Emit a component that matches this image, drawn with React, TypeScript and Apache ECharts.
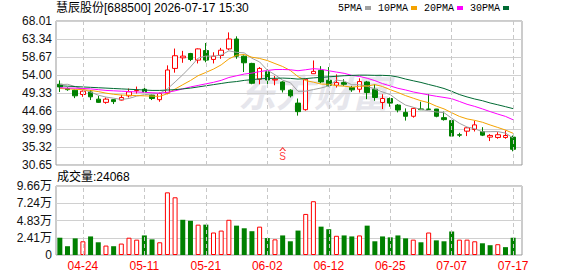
import React, { useEffect, useRef } from "react";
import * as echarts from "echarts";

const dates = [
  "04-21","04-22","04-23","04-24","04-27","04-28","04-29","04-30","05-06","05-07",
  "05-08","05-11","05-12","05-13","05-14","05-15","05-18","05-19","05-20","05-21",
  "05-22","05-25","05-26","05-27","05-28","05-29","06-01","06-02","06-03","06-04",
  "06-05","06-08","06-09","06-10","06-11","06-12","06-15","06-16","06-17","06-18",
  "06-22","06-23","06-24","06-25","06-26","06-29","06-30","07-01","07-02","07-03",
  "07-06","07-07","07-08","07-09","07-10","07-13","07-14","07-15","07-16","07-17",
];
const opens = [
  51.6,50.5,50.06,48.94,49.6,47.74,46.9,47.6,47.49,48.6,
  49.9,50.3,48.77,47.6,49.3,55.71,58.45,59.57,57.86,60.34,
  58.03,59.06,60.77,63.34,58.88,57.0,52.9,54.86,52.7,52.2,
  50.06,46.71,45.0,54.34,55.2,52.63,51.34,52.03,50.74,50.3,
  52.2,50.3,46.88,47.9,46.2,44.3,43.29,45.2,45.17,45.17,
  42.94,42.17,38.5,39.43,39.86,39.34,37.89,37.8,37.8,37.89,
];
const closes = [
  50.9,50.2,48.6,49.8,48.34,46.9,47.74,47.1,48.17,49.63,
  50.0,49.6,47.9,49.2,55.3,59.0,58.9,58.03,60.77,57.86,
  58.88,60.43,63.34,58.88,57.17,51.86,55.71,52.7,52.9,50.15,
  48.6,44.49,52.9,54.94,52.2,51.34,52.03,51.6,50.15,52.3,
  49.46,48.17,47.9,46.71,44.9,43.29,45.34,45.0,45.08,43.29,
  42.43,38.15,38.4,40.3,41.06,38.4,38.32,38.5,38.3,34.72,
];
const highs = [
  52.6,50.8,50.2,50.0,50.1,48.6,48.17,47.74,48.86,50.5,
  51.0,51.0,48.94,49.46,56.5,60.86,60.26,59.74,60.9,62.31,
  59.9,61.03,65.05,64.03,59.06,57.17,56.06,55.46,53.74,52.4,
  50.3,47.9,53.0,57.77,56.3,56.06,54.17,52.9,51.17,53.14,
  52.46,51.6,49.0,48.17,46.46,45.34,45.5,47.06,49.03,45.2,
  44.49,42.2,39.0,40.4,42.17,40.46,38.66,39.17,39.6,38.3,
];
const lows = [
  49.6,49.9,48.0,48.34,47.5,46.8,46.54,46.46,47.4,48.17,
  49.2,49.4,47.5,47.06,49.0,54.6,57.17,57.6,57.0,57.3,
  57.0,58.2,60.43,58.2,54.77,51.6,51.6,51.0,51.34,49.46,
  48.17,43.46,44.74,54.3,51.86,51.0,50.74,51.17,49.63,49.46,
  47.74,47.3,45.17,45.77,44.3,42.17,42.94,44.9,44.9,43.03,
  42.17,37.97,37.9,38.15,39.34,38.15,36.86,37.46,37.46,34.2,
];
const volumes = [
  24200,12300,23300,19200,26000,17800,13200,12300,16000,24200,
  21500,27400,21900,17800,87700,80800,49300,47900,42500,42500,
  31500,34200,49300,41100,37400,33300,39700,23700,21900,27400,
  19200,34200,57500,75300,39700,36100,26900,27400,26000,27400,
  41100,19200,26000,24700,27400,23300,21500,17800,31500,20500,
  19200,32900,21500,21500,19200,16400,13700,15100,11000,24068,
];
const ma5 = [
  51.5,51.6,51.0,50.3,49.57,48.77,48.28,47.98,47.65,47.91,
  48.53,48.9,49.06,49.27,50.4,52.2,54.06,56.09,58.4,58.91,
  58.89,59.19,60.26,59.88,59.74,58.34,57.39,55.26,54.07,52.66,
  52.01,49.77,49.81,50.22,50.63,51.17,52.68,52.42,51.46,51.48,
  51.11,50.34,49.6,48.91,47.43,46.19,45.63,45.05,44.72,44.4,
  44.23,42.79,41.47,40.51,40.07,39.26,39.3,39.32,38.92,37.65,
];
const ma10 = [
  50.5,50.4,50.3,50.2,50.0,49.7,49.3,49.0,48.8,48.74,
  48.65,48.59,48.52,48.46,49.15,50.36,51.48,52.57,53.83,54.66,
  55.54,56.63,58.17,59.14,59.32,58.61,58.29,57.76,56.97,56.2,
  55.17,53.58,52.54,52.14,51.65,51.59,51.23,51.12,50.84,51.06,
  51.14,51.51,51.01,50.19,49.46,48.65,47.98,47.32,46.81,45.91,
  45.21,44.21,43.26,42.61,42.23,41.74,41.04,40.39,39.72,38.86,
];
const ma20 = [
  50.7,50.6,50.6,50.5,50.4,50.2,50.0,49.9,49.8,49.7,
  49.6,49.5,49.4,49.3,49.5,49.9,50.4,50.9,51.3,51.7,
  52.1,52.61,53.35,53.8,54.24,54.49,54.89,55.17,55.41,55.43,
  55.36,55.11,55.36,55.64,55.49,55.1,54.76,54.44,53.91,53.63,
  53.16,52.54,51.77,51.16,50.55,50.12,49.6,49.22,48.83,48.48,
  48.18,47.85,47.14,46.4,45.85,45.2,44.51,43.86,43.26,42.37,
];
const ma30 = [
  51.2,51.1,51.0,50.9,50.8,50.7,50.6,50.5,50.4,50.3,
  50.2,50.1,50.0,50.0,50.1,50.2,50.4,50.6,50.9,51.2,
  51.5,51.8,52.1,52.3,52.6,52.8,53.0,53.1,53.15,53.2,
  53.12,52.94,53.07,53.25,53.38,53.52,53.67,53.81,53.89,53.97,
  53.96,53.91,53.91,53.82,53.48,52.95,52.5,52.07,51.54,51.05,
  50.5,49.76,48.93,48.31,47.77,47.33,46.74,46.27,45.78,45.27,
];
const priceTicks = ["30.65","35.32","39.99","44.66","49.33","54.00","58.67","63.34","68.01"];
const volTicks = ["0","2.41万","4.83万","7.24万","9.66万"];
const priceMin = 30.65;
const priceMax = 68.01;
const volMax = 96600;
const stockTitle = "慧辰股份[688500] 2026-07-17 15:30";
const signalIndex = 29;
const signalPrice = 33.0;

const RED = "#ff0000";
const GREEN = "#008000";
const maNames = ["5PMA", "10PMA", "20PMA", "30PMA"];
const maColors = ["#a0a0a0", "#f5a300", "#ff00ff", "#006a33"];

export default function App() {
  const ref = useRef<HTMLDivElement>(null);
  useEffect(() => {
    if (!ref.current) return;
    const chart = echarts.init(ref.current, undefined, { renderer: "svg" });
    const gridDates = dates.filter((_, i) => (i - 3) % 8 === 0);
    const vLines = {
      silent: true,
      symbol: ["none", "none"],
      label: { show: false },
      lineStyle: { color: "#c8c8c8", type: [4, 3], width: 1 },
      data: gridDates.map((d) => ({ xAxis: d })),
    };
    const sansFont = '"Liberation Sans", Arial, "Noto Sans CJK SC", sans-serif';
    const left = 56;
    const dataW = 461;
    const frameW = 466;
    const pTop = 21, pH = 144, vTop = 186, vH = 69;
    const mas = [ma5, ma10, ma20, ma30];
    chart.setOption({
      animation: false,
      backgroundColor: "#ffffff",
      title: [
        {
          text: stockTitle, left: 56, top: 2, padding: 0,
          textStyle: { fontSize: 12, fontWeight: "normal", color: "#000", fontFamily: sansFont },
        },
        {
          text: "成交量:" + volumes[volumes.length - 1], left: 57, top: 171, padding: 0,
          textStyle: { fontSize: 12, fontWeight: "normal", color: "#000", fontFamily: sansFont },
        },
      ],
      legend: {
        data: maNames, left: 338, top: 3, padding: 0, align: "right",
        itemWidth: 6, itemHeight: 4, itemGap: 7, icon: "rect",
        textStyle: { fontFamily: '"Liberation Mono", monospace', fontSize: 10, color: "#000", padding: [0, -2, 0, 0] },
      },
      graphic: [
        {
          type: "text", left: 238, top: 71, z: 0, silent: true,
          style: {
            text: "东方财富", fontSize: 38, fontWeight: "bold", fontStyle: "italic",
            fill: "#e6e6ec", fontFamily: '"Noto Sans CJK SC", sans-serif',
          },
        },
      ],
      grid: [
        { left, top: pTop, width: dataW, height: pH },
        { left, top: vTop, width: dataW, height: vH },
        { left, top: pTop, width: frameW, height: pH, show: true, borderColor: "#999", borderWidth: 1 },
        { left, top: vTop, width: frameW, height: vH, show: true, borderColor: "#999", borderWidth: 1 },
      ],
      xAxis: [
        { type: "category", gridIndex: 0, data: dates, boundaryGap: true, axisLine: { show: false }, axisTick: { show: false }, axisLabel: { show: false }, splitLine: { show: false } },
        {
          type: "category", gridIndex: 1, data: dates, boundaryGap: true,
          axisLine: { show: false }, axisTick: { show: false }, splitLine: { show: false },
          axisLabel: {
            interval: (i: number) => (i - 3) % 8 === 0,
            color: RED, fontSize: 12, margin: 5, fontFamily: sansFont,
          },
        },
        { type: "value", gridIndex: 2, min: 0, max: 1, show: false },
        { type: "value", gridIndex: 3, min: 0, max: 1, show: false },
      ],
      yAxis: [
        { type: "value", gridIndex: 0, min: priceMin, max: priceMax, show: false, splitLine: { show: false } },
        { type: "value", gridIndex: 1, min: 0, max: volMax, show: false, splitLine: { show: false } },
        {
          type: "value", gridIndex: 2, min: 0, max: priceTicks.length - 1, interval: 1,
          axisLine: { show: false }, axisTick: { show: false },
          splitLine: { show: true, lineStyle: { color: "#d0d0d0", width: 1 } },
          axisLabel: { formatter: (v: number) => priceTicks[Math.round(v)], color: "#111", fontSize: 12, margin: 4, fontFamily: sansFont },
        },
        {
          type: "value", gridIndex: 3, min: 0, max: volTicks.length - 1, interval: 1,
          axisLine: { show: false }, axisTick: { show: false },
          splitLine: { show: true, lineStyle: { color: "#d0d0d0", width: 1 } },
          axisLabel: { formatter: (v: number) => volTicks[Math.round(v)], color: "#111", fontSize: 12, margin: 4, fontFamily: sansFont },
        },
      ],
      series: [
        {
          type: "candlestick", xAxisIndex: 0, yAxisIndex: 0, barWidth: 5,
          data: dates.map((_, i) => [opens[i], closes[i], lows[i], highs[i]]),
          itemStyle: { color: "#ffffff", color0: GREEN, borderColor: RED, borderColor0: GREEN, borderWidth: 1 },
          markLine: vLines, z: 3,
        },
        ...mas.map((m, k) => ({
          type: "line", name: maNames[k], xAxisIndex: 0, yAxisIndex: 0, data: m,
          showSymbol: false, symbol: "none", color: maColors[k],
          lineStyle: { width: 1, color: maColors[k] }, z: 4,
        })),
        {
          type: "bar", xAxisIndex: 1, yAxisIndex: 1, barWidth: 5,
          data: volumes.map((v, i) => {
            const up = i === 0 ? closes[0] >= opens[0] : closes[i] >= closes[i - 1];
            return {
              value: v,
              itemStyle: up
                ? { color: "#ffffff", borderColor: RED, borderWidth: 1 }
                : { color: GREEN, borderColor: GREEN, borderWidth: 0 },
            };
          }),
          markLine: vLines,
        },
        {
          type: "scatter", xAxisIndex: 0, yAxisIndex: 0,
          symbol: "path://M0,6 L5,0 L10,6 L8,6 L5,2.5 L2,6 Z",
          symbolSize: [7, 4], symbolOffset: [0, -7],
          itemStyle: { color: RED },
          data: [[dates[signalIndex], signalPrice]],
          label: {
            show: true, position: "bottom", distance: 1, formatter: "S",
            color: RED, fontSize: 10, fontFamily: sansFont,
          },
          z: 5,
        },
      ],
    });
    return () => chart.dispose();
  }, []);
  return <div ref={ref} style={{ position: "fixed", left: 0, top: 0, width: 578, height: 276 }} />;
}
